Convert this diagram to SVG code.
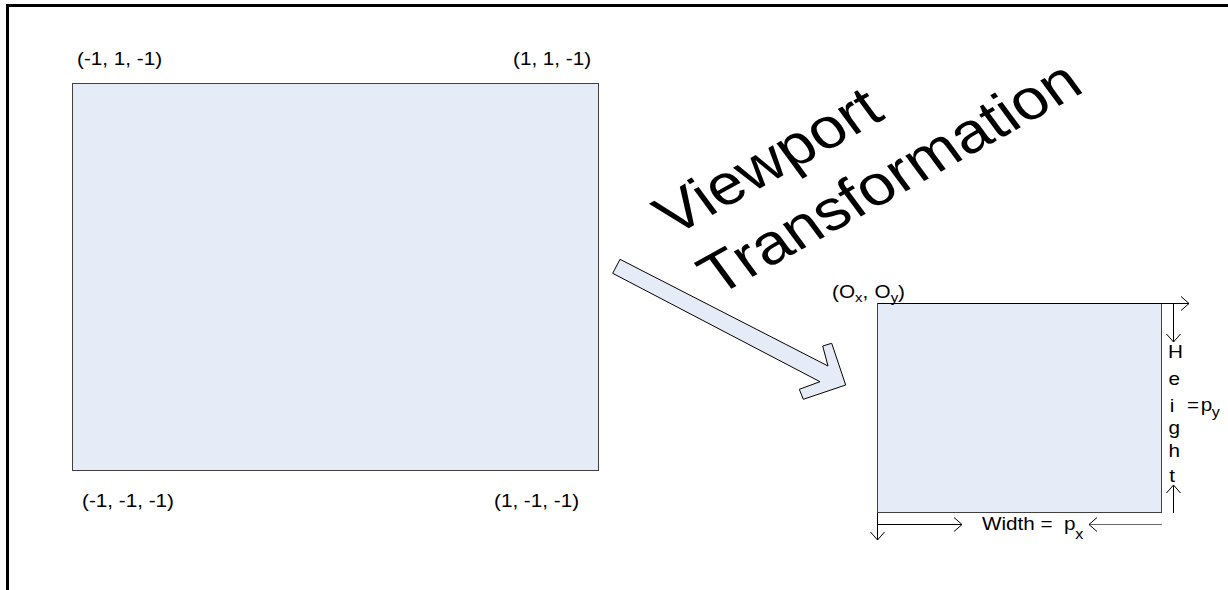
<svg xmlns="http://www.w3.org/2000/svg" width="1228" height="590" viewBox="0 0 1228 590">
  <style>
    .lbl { font-family: "Liberation Sans", Arial, sans-serif; font-size: 18px; fill: #000; }
    .sub { font-size: 13px; }
    .sub2 { font-size: 14px; }
    .big { font-family: "Liberation Sans", Arial, sans-serif; font-size: 57px; fill: #000; }
    .panel { fill: #E6ECF7; stroke: #404040; stroke-width: 1; }
    .dim { fill: none; stroke: #000; stroke-width: 1; }
    .dimg { fill: none; stroke: #6a6a6a; stroke-width: 1; }
  </style>
  <defs>
    <marker id="open" viewBox="0 0 10 16" refX="9" refY="8" markerWidth="10" markerHeight="16" markerUnits="userSpaceOnUse" orient="auto">
      <path d="M1 1 L9 8 L1 15" fill="none" stroke="#000" stroke-width="1"/>
    </marker>
  </defs>

  <rect width="1228" height="590" fill="#fff"/>

  <!-- page frame (top and left edges only) -->
  <path d="M7.5 590 V5.5 H1228" fill="none" stroke="#000" stroke-width="3"/>

  <!-- clip-space square; labels use a slightly widened type -->
  <g id="ndc">
    <rect class="panel" x="72.5" y="83.5" width="526" height="387"/>
    <text class="lbl" transform="translate(77 65) scale(1.15 1)">(-1, 1, -1)</text>
    <text class="lbl" transform="translate(513 65) scale(1.15 1)">(1, 1, -1)</text>
    <text class="lbl" transform="translate(82 507) scale(1.15 1)">(-1, -1, -1)</text>
    <text class="lbl" transform="translate(494 507) scale(1.15 1)">(1, -1, -1)</text>
  </g>

  <!-- heading -->
  <g id="title" transform="translate(673 237) scale(1.15 1) rotate(-32.7)">
    <text class="big" x="0" y="0">Viewport</text>
    <text class="big" x="0" y="71">Transformation</text>
  </g>

  <!-- block arrow -->
  <g id="transform-arrow">
    <polygon points="620,259.3 828,366 822.7,346 831.7,343.3 845.7,385 803.3,399.3 799.3,389.3 820,381.7 612.7,273.3" fill="#E6ECF7" stroke="#000" stroke-width="1"/>
  </g>

  <!-- viewport rectangle -->
  <g id="viewport">
    <rect class="panel" x="877.5" y="303.5" width="284" height="209"/>
    <text class="lbl" transform="translate(832 298) scale(1.15 1)">(O<tspan class="sub" dy="4">x</tspan><tspan dy="-4">,</tspan><tspan x="37">O</tspan><tspan class="sub" dy="4">y</tspan><tspan dy="-4">)</tspan></text>
    <g transform="translate(1168 0) scale(1.15 1)">
      <text class="lbl" x="0" y="358">H</text>
      <text class="lbl" x="0.5" y="385">e</text>
      <text class="lbl" x="1.5" y="412">i</text>
      <text class="lbl" x="0.5" y="434">g</text>
      <text class="lbl" x="0.5" y="457">h</text>
      <text class="lbl" x="1" y="482">t</text>
    </g>
    <text class="lbl" transform="translate(1187 411) scale(1.15 1)">=<tspan x="12">p</tspan><tspan class="sub2" x="21.5" dy="6">y</tspan></text>
    <text class="lbl" transform="translate(982 529.5) scale(1.15 1)">Width = <tspan x="71.3">p</tspan><tspan class="sub2" x="81" dy="9">x</tspan></text>
  </g>

  <!-- dimension arrows -->
  <g id="connectors">
    <line class="dim" x1="878" y1="303.5" x2="1189" y2="303.5" marker-end="url(#open)"/>
    <line class="dim" x1="1173.5" y1="304" x2="1173.5" y2="342" marker-end="url(#open)"/>
    <line class="dim" x1="1173.5" y1="513" x2="1173.5" y2="485" marker-end="url(#open)"/>
    <line class="dim" x1="878" y1="524.5" x2="962" y2="524.5" marker-end="url(#open)"/>
    <line class="dimg" x1="1162" y1="524.5" x2="1089" y2="524.5" marker-end="url(#open)"/>
    <line class="dim" x1="877.5" y1="513" x2="877.5" y2="540" marker-end="url(#open)"/>
  </g>
</svg>
